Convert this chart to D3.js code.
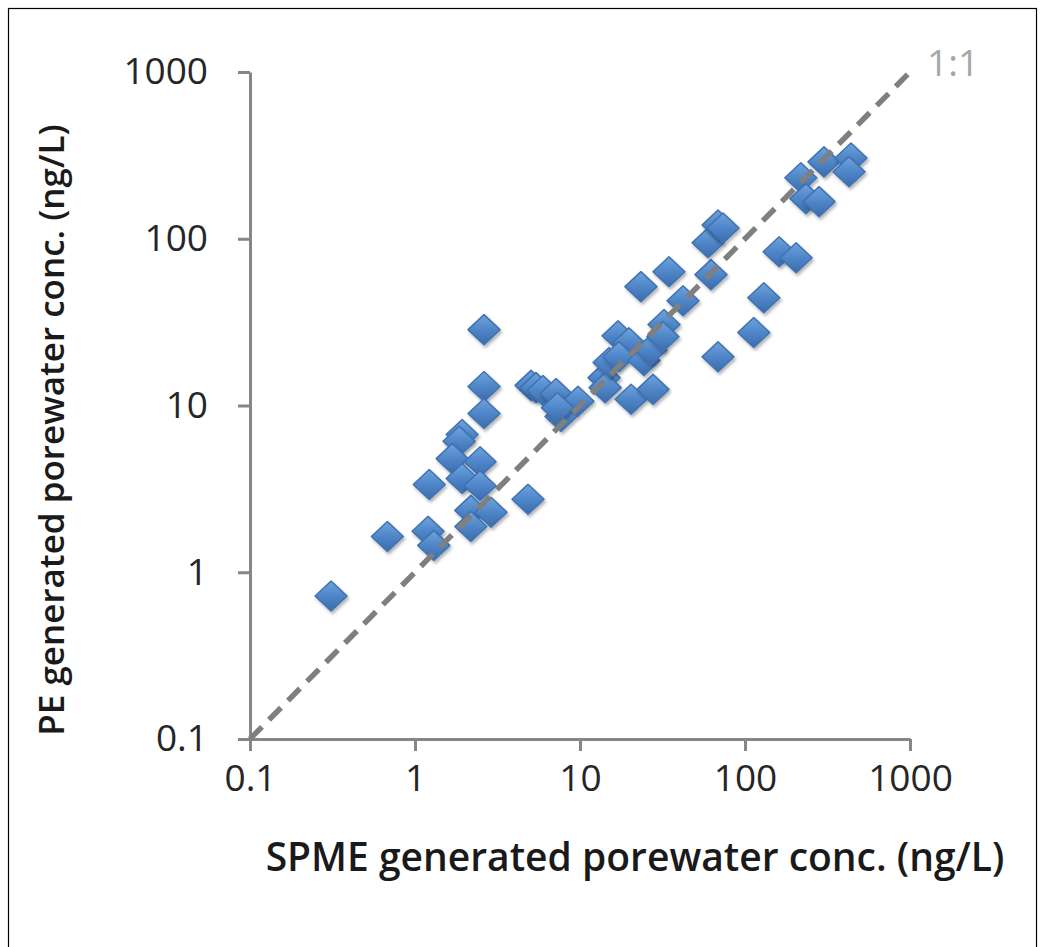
<!DOCTYPE html>
<html>
<head>
<meta charset="utf-8">
<script src="https://cdn.jsdelivr.net/npm/d3@7"></script>
<style>
  html, body { margin: 0; padding: 0; background: #fff; }
  svg { display: block; }
</style>
</head>
<body>
<div id="chart"></div>
<script>
// SPME vs PE porewater concentrations (ng/L)
let spme = [0.31, 0.68, 1.20, 1.30, 1.22, 1.93, 1.85, 1.68, 2.48, 1.93,
            2.48, 2.18, 2.89, 2.18, 4.84, 2.62, 2.62, 2.62, 5.05, 5.41,
            5.97, 7.16, 9.72, 7.67, 7.3, 14.0, 14.2, 15.0, 17.0, 19.8,
            17.2, 24.4, 26.9, 32.3, 31.8, 20.4, 27.7, 23.4, 34.6, 42.1,
            62.2, 59.7, 68.6, 73.6, 68.6, 113, 130, 161, 204, 218,
            234, 281, 301, 439, 427];
let pe = [0.72, 1.64, 1.76, 1.45, 3.36, 6.7, 6.1, 4.8, 4.6, 3.65,
          3.3, 2.35, 2.29, 1.88, 2.74, 28.5, 13.0, 8.96, 13.2, 12.8,
          12.3, 11.8, 10.6, 8.6, 9.7, 14.7, 12.8, 18.1, 26.2, 23.8,
          19.6, 18.6, 21.6, 30.6, 25.9, 10.9, 12.5, 51.6, 63.4, 42.5,
          60.9, 94.6, 121, 116, 19.6, 27.4, 44.3, 83.6, 76.9, 232,
          174, 167, 289, 305, 252];
let tickValues = [0.1, 1, 10, 100, 1000];
let tickLabels = ["0.1", "1", "10", "100", "1000"];
let oneToOne = [0.1, 1000];

let width = 1042, height = 947;

let svg = d3.select("#chart")
    .append("svg")
    .attr("width", width)
    .attr("height", height);

// frame round the picture
svg.append("rect")
    .attr("x", 8.5)
    .attr("y", 8.5)
    .attr("width", 1028)
    .attr("height", 960)
    .attr("fill", "none")
    .attr("stroke", "#000")
    .attr("stroke-width", 1.2);

let x = d3.scaleLog().domain([0.1, 1000]).range([250, 910]);
let y = d3.scaleLog().domain([0.1, 1000]).range([739, 72]);

let defs = svg.append("defs");
let grad = defs.append("linearGradient")
    .attr("id", "markerFill")
    .attr("x1", 0).attr("y1", 0)
    .attr("x2", 0).attr("y2", 1);
grad.append("stop").attr("offset", "0%").attr("stop-color", "#6fa3de");
grad.append("stop").attr("offset", "50%").attr("stop-color", "#4f86c8");
grad.append("stop").attr("offset", "100%").attr("stop-color", "#3b6cac");

let shadow = defs.append("filter")
    .attr("id", "shadow")
    .attr("x", "-50%").attr("y", "-50%")
    .attr("width", "200%").attr("height", "200%");
shadow.append("feDropShadow")
    .attr("dx", 1.5)
    .attr("dy", 2.5)
    .attr("stdDeviation", 1.8)
    .attr("flood-color", "#000")
    .attr("flood-opacity", 0.3);

// axes
let xAxis = d3.axisBottom(x)
    .tickValues(tickValues)
    .tickFormat((d, i) => tickLabels[i])
    .tickSize(12)
    .tickSizeOuter(0)
    .tickPadding(14);

let yAxis = d3.axisLeft(y)
    .tickValues(tickValues)
    .tickFormat((d, i) => tickLabels[i])
    .tickSize(12)
    .tickSizeOuter(0)
    .tickPadding(30);

let gx = svg.append("g")
    .attr("transform", `translate(0,${y(0.1)})`)
    .call(xAxis);

let gy = svg.append("g")
    .attr("transform", `translate(${x(0.1)},0)`)
    .call(yAxis);

[gx, gy].forEach(g => {
    g.select(".domain").attr("stroke", "#868686").attr("stroke-width", 3);
    g.selectAll(".tick line").attr("stroke", "#868686").attr("stroke-width", 3);
    g.selectAll(".tick text")
        .attr("fill", "#262626")
        .style("font-family", "'Open Sans', sans-serif")
        .style("font-size", "37px");
});

// diamonds
let hw = 16, hh = 15;
let diamond = `M0,${-hh}L${hw},0L0,${hh}L${-hw},0Z`;

svg.append("g")
    .selectAll("path")
    .data(spme.map((d, i) => ({ spme: d, pe: pe[i] })))
    .join("path")
    .attr("d", diamond)
    .attr("transform", d => `translate(${x(d.spme)},${y(d.pe)})`)
    .attr("fill", "url(#markerFill)")
    .attr("stroke", "#3f72b2")
    .attr("stroke-width", 1.5)
    .attr("stroke-linejoin", "round")
    .attr("filter", "url(#shadow)");

// 1:1 line
svg.append("line")
    .attr("x1", x(oneToOne[0]))
    .attr("y1", y(oneToOne[0]))
    .attr("x2", x(oneToOne[1]))
    .attr("y2", y(oneToOne[1]))
    .attr("stroke", "#7f7f7f")
    .attr("stroke-width", 5.5)
    .attr("stroke-dasharray", "17,10");

svg.append("text")
    .attr("x", x(oneToOne[1]) + 17)
    .attr("y", y(oneToOne[1]) + 4)
    .attr("fill", "#a6a6a6")
    .style("font-family", "'Open Sans', sans-serif")
    .style("font-size", "37px")
    .text("1:1");

// axis titles
svg.append("text")
    .attr("x", 635)
    .attr("y", 871)
    .attr("text-anchor", "middle")
    .attr("fill", "#1a1a1a")
    .style("font-family", "'Open Sans', sans-serif")
    .style("font-size", "39px")
    .style("font-weight", 600)
    .text("SPME generated porewater conc. (ng/L)");

svg.append("text")
    .attr("transform", "translate(64,430) rotate(-90)")
    .attr("text-anchor", "middle")
    .attr("fill", "#1a1a1a")
    .style("font-family", "'Open Sans', sans-serif")
    .style("font-size", "35px")
    .style("font-weight", 600)
    .text("PE generated porewater conc. (ng/L)");
</script>
</body>
</html>
